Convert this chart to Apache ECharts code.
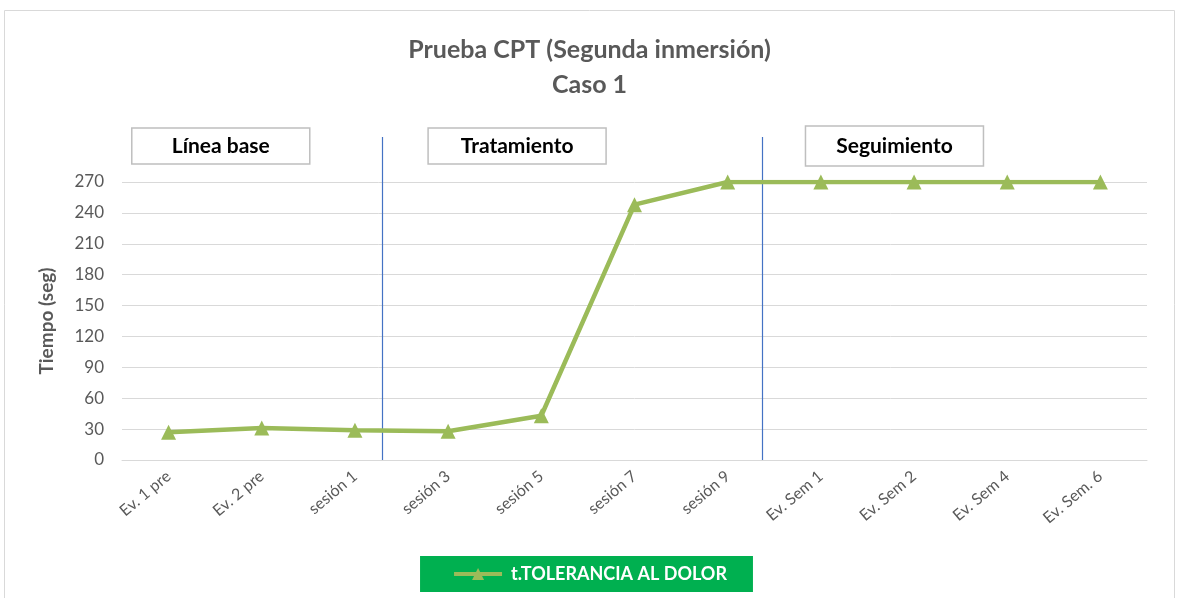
<!DOCTYPE html>
<html>
<head>
<meta charset="utf-8">
<script src="https://cdn.jsdelivr.net/npm/echarts@6/dist/echarts.min.js"></script>
<style>
  html, body { margin: 0; padding: 0; background: #fff; }
  #chart { width: 1179px; height: 598px; }
</style>
</head>
<body>
<div id="chart"></div>
<script>
// Données
const categories = ['Ev. 1 pre', 'Ev. 2 pre', 'sesión 1', 'sesión 3', 'sesión 5', 'sesión 7',
    'sesión 9', 'Ev. Sem 1', 'Ev. Sem 2', 'Ev. Sem 4', 'Ev. Sem. 6'];
const tolerancia = [27, 31, 29, 28, 43, 248, 270, 270, 270, 270, 270];
const yTicks = { min: 0, max: 270, interval: 30 };
// Séparateurs de phases (position en index de catégorie)
const phaseBreaks = [2.29, 6.37];
const phases = ['Línea base', 'Tratamiento', 'Seguimiento'];
const phaseCenters = [0.56, 3.74, 7.79];

const FONT = 'Lato, "Liberation Sans", sans-serif';
const chart = echarts.init(document.getElementById('chart'), null, { renderer: 'canvas' });

const option = {
    animation: false,
    title: {
        text: 'Prueba CPT (Segunda inmersión)\nCaso 1',
        left: 'center',
        top: 27,
        textStyle: { fontFamily: FONT, fontSize: 25, fontWeight: 'bold', color: '#595959', lineHeight: 35 }
    },
    grid: { left: 122, right: 32, top: 182, bottom: 138 },
    legend: {
        bottom: 6,
        left: 'center',
        backgroundColor: '#00B050',
        padding: [9, 26, 9, 32],
        itemWidth: 48,
        itemHeight: 15,
        lineStyle: { width: 4 },
        textStyle: { fontFamily: FONT, fontSize: 18, fontWeight: 'bold', color: '#fff', padding: [0, 0, 0, 4] }
    },
    xAxis: [
        {
            type: 'category',
            data: categories,
            boundaryGap: true,
            axisLine: { lineStyle: { color: '#D9D9D9' } },
            axisTick: { show: false },
            axisLabel: { rotate: 40, margin: 14, fontFamily: FONT, fontSize: 16, color: '#595959' }
        },
        {
            // axe caché pour placer les séparateurs
            type: 'value', min: -0.5, max: categories.length - 0.5, show: false
        }
    ],
    yAxis: {
        type: 'value',
        min: yTicks.min, max: yTicks.max, interval: yTicks.interval,
        name: 'Tiempo (seg)',
        nameLocation: 'middle',
        nameGap: 66,
        nameTextStyle: { fontFamily: FONT, fontSize: 19, fontWeight: 'bold', color: '#595959' },
        axisLine: { show: false },
        axisTick: { show: false },
        axisLabel: { margin: 18, fontFamily: FONT, fontSize: 17, color: '#595959' },
        splitLine: { lineStyle: { color: '#D9D9D9', width: 1 } }
    },
    series: [{
        name: 't.TOLERANCIA AL DOLOR',
        type: 'line',
        data: tolerancia,
        symbol: 'triangle',
        symbolSize: 15,
        lineStyle: { color: '#9BBB59', width: 4.5 },
        itemStyle: { color: '#9BBB59' }
    }]
};

chart.setOption(option);

// Séparateurs verticaux et étiquettes de phases
function drawPhases() {
    const yBottom = chart.convertToPixel({ yAxisIndex: 0 }, 0);
    const elements = [{
        type: 'rect', silent: true,
        shape: { x: 4.5, y: 10.5, width: 1170, height: 600 },
        style: { fill: null, stroke: '#D9D9D9', lineWidth: 1 }
    }];
    phaseBreaks.forEach(b => {
        const x = Math.round(chart.convertToPixel({ xAxisIndex: 1 }, b)) + 0.5;
        elements.push({
            type: 'line', silent: true,
            shape: { x1: x, y1: 137, x2: x, y2: yBottom },
            style: { stroke: '#4472C4', lineWidth: 1.2 }
        });
    });
    phases.forEach((p, i) => {
        const cx = chart.convertToPixel({ xAxisIndex: 1 }, phaseCenters[i]);
        const top = i === 2 ? 126 : 128;
        const h = i === 2 ? 40 : 36;
        elements.push({
            type: 'group', silent: true,
            children: [
                {
                    type: 'rect',
                    shape: { x: cx - 89, y: top, width: 178, height: h },
                    style: { fill: '#fff', stroke: '#BFBFBF', lineWidth: 1.5 }
                },
                {
                    type: 'text',
                    style: {
                        x: cx, y: top + h / 2, text: p, align: 'center', verticalAlign: 'middle',
                        font: 'bold 21px ' + FONT, fill: '#000'
                    }
                }
            ]
        });
    });
    chart.setOption({ graphic: elements });
}
drawPhases();

window.addEventListener('resize', () => {
    chart.resize();
    drawPhases();
});
</script>
</body>
</html>
